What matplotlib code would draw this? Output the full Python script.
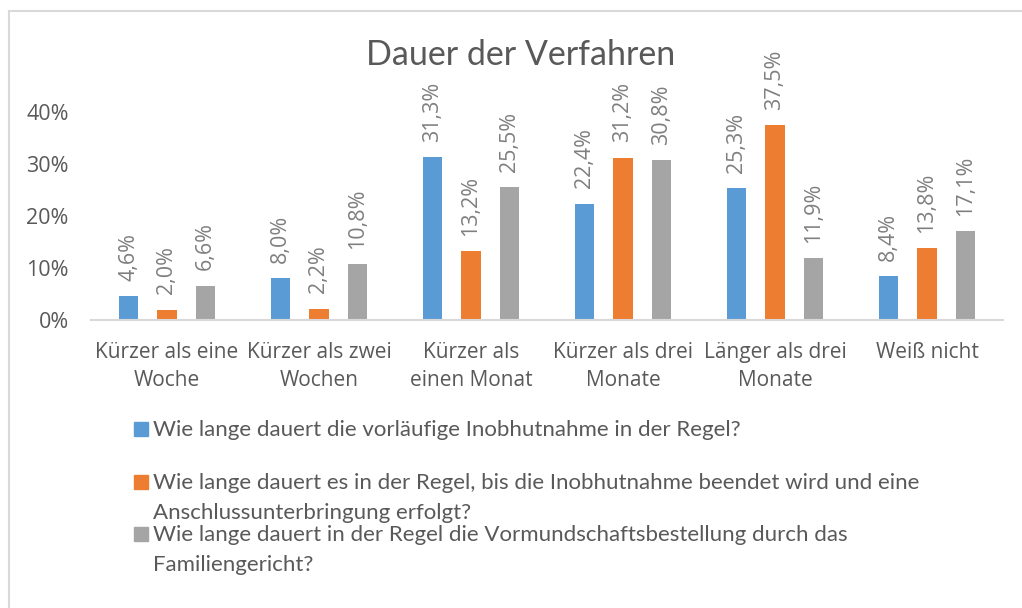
import matplotlib.pyplot as plt
import numpy as np
from matplotlib.patches import Rectangle

categories = ["Kürzer als eine\nWoche", "Kürzer als zwei\nWochen", "Kürzer als\neinen Monat",
              "Kürzer als drei\nMonate", "Länger als drei\nMonate", "Weiß nicht"]
vorlaeufig = [4.6, 8.0, 31.3, 22.4, 25.3, 8.4]
anschluss = [2.0, 2.2, 13.2, 31.2, 37.5, 13.8]
vormundschaft = [6.6, 10.8, 25.5, 30.8, 11.9, 17.1]
series_names = [
    "Wie lange dauert die vorläufige Inobhutnahme in der Regel?",
    "Wie lange dauert es in der Regel, bis die Inobhutnahme beendet wird und eine\nAnschlussunterbringung erfolgt?",
    "Wie lange dauert in der Regel die Vormundschaftsbestellung durch das\nFamiliengericht?",
]
colors = ["#5B9BD5", "#ED7D31", "#A5A5A5"]
text_col = "#595959"

W, H = 1022, 608
fig = plt.figure(figsize=(W / 100, H / 100), dpi=100)

# chart border (cut off at right/bottom like the screenshot)
fig.patches.append(Rectangle((9 / W, -0.1), 1.2, 1 - 11 / H + 0.1, transform=fig.transFigure,
                             fill=False, edgecolor="#D9D9D9", linewidth=1.5))

ax = fig.add_axes([91 / W, 1 - 320 / H, (1003 - 91) / W, (320 - 112) / H])
x = np.arange(len(categories))
offsets = [-0.253, 0, 0.253]
for vals, off, c in zip([vorlaeufig, anschluss, vormundschaft], offsets, colors):
    bars = ax.bar(x + off, np.array(vals) / 100, width=0.13, color=c)
    for b, v in zip(bars, vals):
        ax.annotate(f"{v:.1f}%".replace(".", ","), (b.get_x() + b.get_width() / 2, b.get_height()),
                    xytext=(0, 11), textcoords="offset points", rotation=90,
                    ha="center", va="bottom", fontsize=15.5, color="#7F7F7F",
                    family="Open Sans", annotation_clip=False)

ax.set_xlim(-0.5, len(categories) - 0.5)
ax.set_ylim(0, 0.4)
ax.set_yticks([0, 0.1, 0.2, 0.3, 0.4])
ax.set_yticklabels(["0%", "10%", "20%", "30%", "40%"], family="Open Sans", fontsize=15.5, color=text_col)
ax.set_xticks(x)
ax.set_xticklabels(categories, family="Open Sans", fontsize=15, color=text_col, linespacing=1.4)
ax.tick_params(length=0)
ax.tick_params(axis="y", pad=16)
ax.tick_params(axis="x", pad=16)
for s in ["top", "left", "right"]:
    ax.spines[s].set_visible(False)
ax.spines["bottom"].set_color("#D9D9D9")
ax.spines["bottom"].set_linewidth(1.5)

fig.text(521 / W, 1 - 55 / H, "Dauer der Verfahren", ha="center", va="center",
         fontsize=24.5, color=text_col, family="Lato")

# legend drawn manually
leg_y = [429, 482, 534]
for name, c, yy in zip(series_names, colors, leg_y):
    fig.patches.append(Rectangle((134 / W, 1 - (yy + 7) / H), 14 / W, 14 / H,
                                 transform=fig.transFigure, color=c))
    fig.text(153 / W, 1 - (yy - 9) / H, name, ha="left", va="top", fontsize=16,
             color=text_col, family="Lato", linespacing=1.62)

fig.savefig("out.png", dpi=100)
